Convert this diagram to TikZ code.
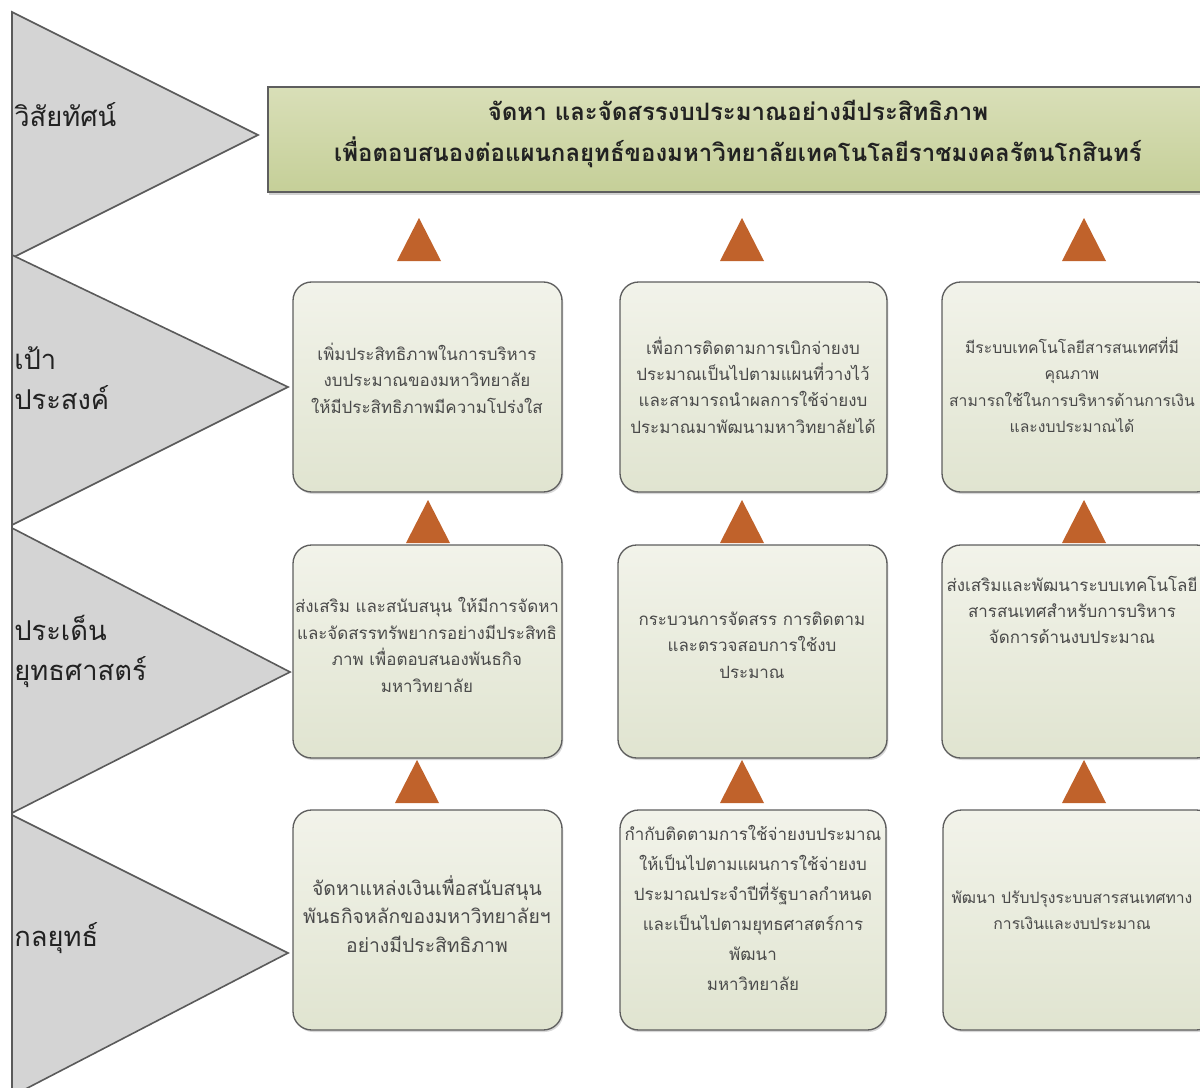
\documentclass[tikz,border=0pt]{standalone}
\usepackage{fontspec}
\setmainfont{Liberation Sans}
\newfontfamily\thai[Script=Thai]{Loma}
\usetikzlibrary{shadows}
\definecolor{chevfill}{HTML}{D4D4D4}
\definecolor{chevline}{HTML}{5A5A5A}
\definecolor{bantop}{HTML}{D9DFB8}
\definecolor{banbot}{HTML}{C5CF98}
\definecolor{boxtop}{HTML}{F2F3EA}
\definecolor{boxbot}{HTML}{E0E4D0}
\definecolor{boxline}{HTML}{5E5E5E}
\definecolor{arrowc}{HTML}{C0622B}
\definecolor{labc}{HTML}{222222}
\definecolor{boxtext}{HTML}{4A4A4A}
\tikzset{
  chev/.style={fill=chevfill, draw=chevline, line width=1.2pt, line join=miter},
  lab/.style={anchor=west, font=\thai\fontsize{20.5}{30}\selectfont, text=labc, align=left, inner sep=0pt},
  banner/.style={draw=boxline, line width=1pt, top color=bantop, bottom color=banbot,
     drop shadow={shadow xshift=1pt, shadow yshift=-2pt, opacity=0.35}},
  bannertext/.style={font=\thai\bfseries\fontsize{18}{31}\selectfont, text=labc, align=center, inner sep=0pt},
  box/.style={draw=boxline, line width=1pt, rounded corners=14pt, top color=boxtop, bottom color=boxbot,
     drop shadow={shadow xshift=1pt, shadow yshift=-1.5pt, opacity=0.3}},
  btext/.style={font=\thai\fontsize{12.7}{19.8}\selectfont, text=boxtext, align=center, inner sep=0pt},
  btextsmall/.style={font=\thai\fontsize{11.8}{19.8}\selectfont, text=boxtext, align=center, inner sep=0pt},
  btextbig/.style={font=\thai\fontsize{14.5}{21.5}\selectfont, text=boxtext, align=center, inner sep=0pt},
  btextwide/.style={font=\thai\fontsize{12.7}{22.5}\selectfont, text=boxtext, align=center, inner sep=0pt},
  uparrow/.style={fill=arrowc, draw=none}
}
\begin{document}
\begin{tikzpicture}[x=0.75pt,y=-0.75pt]
\useasboundingbox (0,0) rectangle (1200,1088);
\fill[white] (0,0) rectangle (1200,1088);
% chevrons
\filldraw[chev] (12,12) -- (258,135) -- (12,258) -- cycle;
\filldraw[chev] (12,255) -- (288,387) -- (12,525) -- cycle;
\filldraw[chev] (12,528) -- (290,672) -- (12,813) -- cycle;
\filldraw[chev] (12,815) -- (288,953) -- (12,1096) -- cycle;
\draw[chevline, line width=1.2pt] (12,12) -- (12,1100);
\node[lab] (l1) at (14,115) {วิสัยทัศน์};
\node[lab] (l2) at (14,378) {เป้า\\ประสงค์};
\node[lab] (l3) at (14,651) {ประเด็น\\ยุทธศาสตร์};
\node[lab] (l4) at (14,938) {กลยุทธ์};
% banner
\path[banner] (268,87) rectangle (1210,192);
\node[bannertext] (ban) at (738,134) {จัดหา และจัดสรรงบประมาณอย่างมีประสิทธิภาพ\\เพื่อตอบสนองต่อแผนกลยุทธ์ของมหาวิทยาลัยเทคโนโลยีราชมงคลรัตนโกสินทร์};
% boxes row 1
\path[box] (293,282) rectangle (562,492);
\path[box] (620,282) rectangle (887,492);
\path[box] (942,282) rectangle (1215,492);
\node[btext] (g1) at (427,378) {เพิ่มประสิทธิภาพในการบริหาร\\งบประมาณของมหาวิทยาลัย\\ให้มีประสิทธิภาพมีความโปร่งใส};
\node[btext] (g2) at (753,385) {เพื่อการติดตามการเบิกจ่ายงบ\\ประมาณเป็นไปตามแผนที่วางไว้\\และสามารถนำผลการใช้จ่ายงบ\\ประมาณมาพัฒนามหาวิทยาลัยได้};
\node[btextsmall] (g3) at (1072,385) {มีระบบเทคโนโลยีสารสนเทศที่มี\\คุณภาพ\\สามารถใช้ในการบริหารด้านการเงิน\\และงบประมาณได้};
% boxes row 2
\path[box] (293,545) rectangle (562,758);
\path[box] (618,545) rectangle (887,758);
\path[box] (942,545) rectangle (1215,758);
\node[btext] (s1) at (427,645) {ส่งเสริม และสนับสนุน ให้มีการจัดหา\\และจัดสรรทรัพยากรอย่างมีประสิทธิ\\ภาพ เพื่อตอบสนองพันธกิจ\\มหาวิทยาลัย};
\node[btext] (s2) at (752,645) {กระบวนการจัดสรร การติดตาม\\และตรวจสอบการใช้งบ\\ประมาณ};
\node[btext] (s3) at (1072,610) {ส่งเสริมและพัฒนาระบบเทคโนโลยี\\สารสนเทศสำหรับการบริหาร\\จัดการด้านงบประมาณ};
% boxes row 3
\path[box] (293,810) rectangle (562,1030);
\path[box] (620,810) rectangle (886,1030);
\path[box] (943,810) rectangle (1215,1030);
\node[btextbig] (t1) at (427,914) {จัดหาแหล่งเงินเพื่อสนับสนุน\\พันธกิจหลักของมหาวิทยาลัยฯ\\อย่างมีประสิทธิภาพ};
\node[btextwide] (t2) at (753,908) {กำกับติดตามการใช้จ่ายงบประมาณ\\ให้เป็นไปตามแผนการใช้จ่ายงบ\\ประมาณประจำปีที่รัฐบาลกำหนด\\และเป็นไปตามยุทธศาสตร์การ\\พัฒนา\\มหาวิทยาลัย};
\node[btextsmall] (t3) at (1072,910) {พัฒนา ปรับปรุงระบบสารสนเทศทาง\\การเงินและงบประมาณ};
% arrows
\foreach \x/\y in {419/218, 742/218, 1084/218, 428/500, 742/500, 1084/500, 417/760, 742/760, 1084/760}
  \fill[uparrow] (\x,\y) -- (\x+22,\y+43) -- (\x-22,\y+43) -- cycle;
\end{tikzpicture}
\end{document}
